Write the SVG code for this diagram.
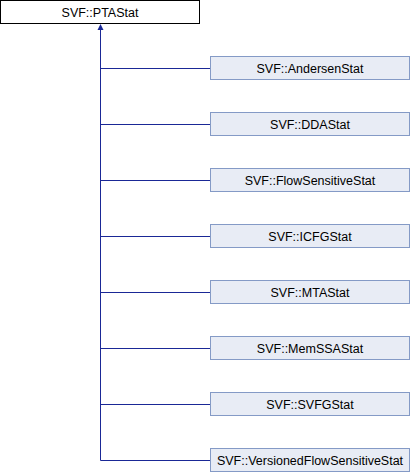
<svg xmlns="http://www.w3.org/2000/svg" width="410" height="472" viewBox="0 0 410 472">
<style>
.base{fill:#ffffff;stroke:#000000;stroke-width:1}
.cls{fill:#e8ecf5;stroke:#849ac6;stroke-width:1}
text{font-family:"Liberation Sans",Arial,sans-serif;font-size:12.5px;fill:#000000;text-anchor:middle}
.edge{stroke:#1a2896;stroke-width:1;fill:none}
</style>
<rect width="410" height="472" fill="#ffffff"/>
<g id="connectors">
<path class="edge" d="M100.5,29V460.5M100.5,68.5H210M100.5,124.5H210M100.5,180.5H210M100.5,236.5H210M100.5,292.5H210M100.5,348.5H210M100.5,404.5H210M100.5,460.5H210"/>
<polygon points="100.5,24 97.5,30 103.5,30" fill="#1a2896"/>
</g>
<g id="PTAStat"><rect class="base" x="0.5" y="0.5" width="199" height="23"/><text x="100" y="16.5">SVF::PTAStat</text></g>
<g id="AndersenStat"><rect class="cls" x="210.5" y="56.5" width="199" height="23"/><text x="310" y="72.5">SVF::AndersenStat</text></g>
<g id="DDAStat"><rect class="cls" x="210.5" y="112.5" width="199" height="23"/><text x="310" y="128.5">SVF::DDAStat</text></g>
<g id="FlowSensitiveStat"><rect class="cls" x="210.5" y="168.5" width="199" height="23"/><text x="310" y="184.5">SVF::FlowSensitiveStat</text></g>
<g id="ICFGStat"><rect class="cls" x="210.5" y="224.5" width="199" height="23"/><text x="310" y="240.5">SVF::ICFGStat</text></g>
<g id="MTAStat"><rect class="cls" x="210.5" y="280.5" width="199" height="23"/><text x="310" y="296.5">SVF::MTAStat</text></g>
<g id="MemSSAStat"><rect class="cls" x="210.5" y="336.5" width="199" height="23"/><text x="310" y="352.5">SVF::MemSSAStat</text></g>
<g id="SVFGStat"><rect class="cls" x="210.5" y="392.5" width="199" height="23"/><text x="310" y="408.5">SVF::SVFGStat</text></g>
<g id="VersionedFlowSensitiveStat"><rect class="cls" x="210.5" y="448.5" width="199" height="23"/><text x="310" y="464.5">SVF::VersionedFlowSensitiveStat</text></g>
</svg>
